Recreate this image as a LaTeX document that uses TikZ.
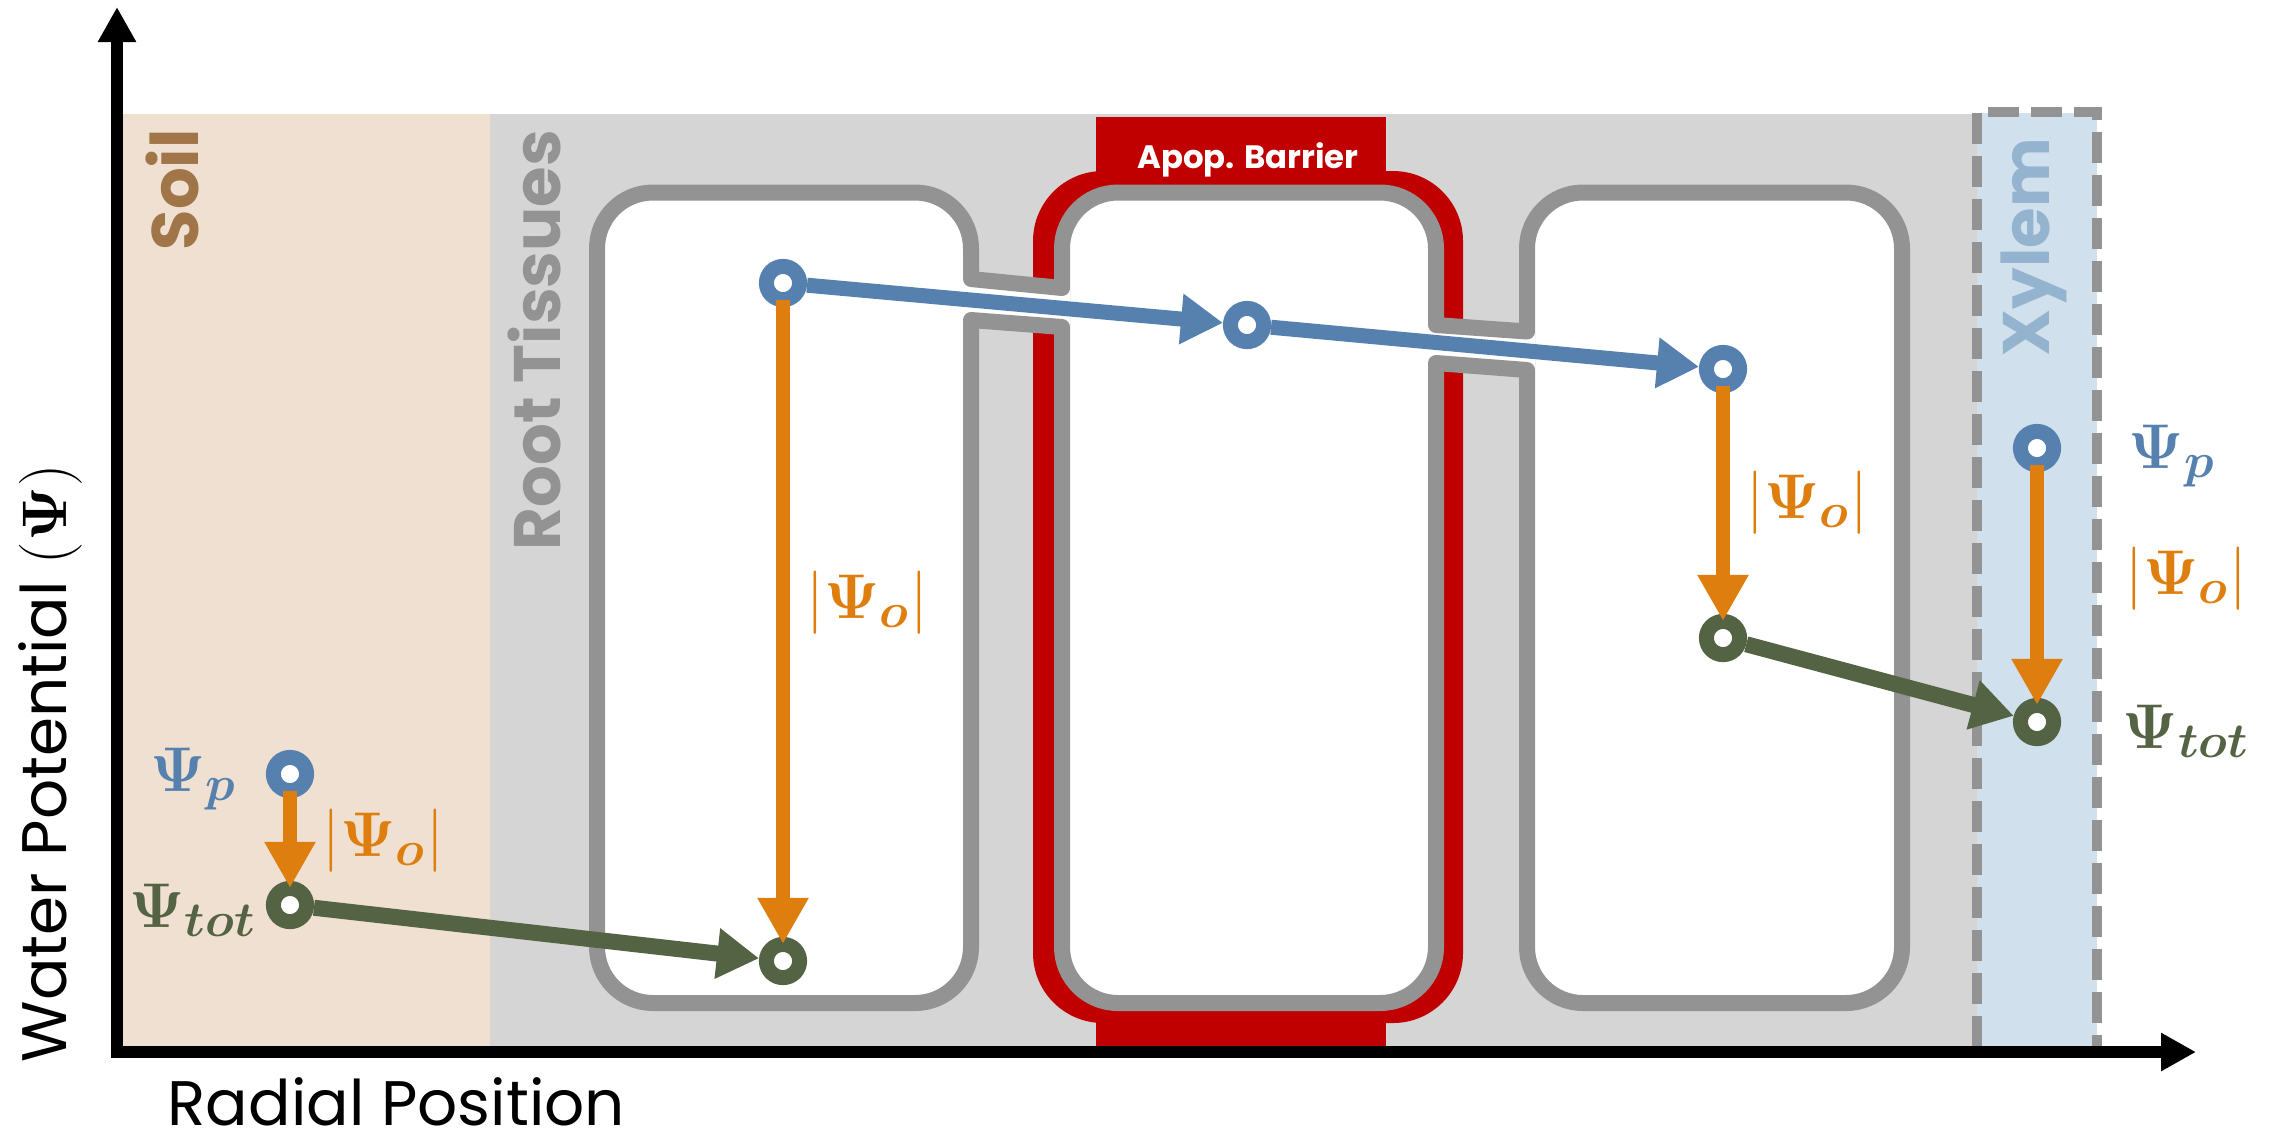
\RequirePackage{fix-cm}
\documentclass[tikz,border=0pt]{standalone}
\usepackage{amsmath}
\usepackage[no-math]{fontspec}
\setmainfont{Poppins}
\usetikzlibrary{arrows.meta}
\DeclareMathSizes{18}{18}{14}{11}

\definecolor{soilbg}{RGB}{239,224,209}
\definecolor{rootbg}{RGB}{213,213,213}
\definecolor{xylembg}{RGB}{208,224,236}
\definecolor{wallgray}{RGB}{147,147,147}
\definecolor{barrier}{RGB}{192,0,0}
\definecolor{psip}{RGB}{86,129,174}
\definecolor{psio}{RGB}{222,126,14}
\definecolor{psitot}{RGB}{84,99,67}
\definecolor{soiltxt}{RGB}{160,117,72}
\definecolor{xylemtxt}{RGB}{148,179,207}

\begin{document}
\begin{tikzpicture}[x=0.1mm,y=-0.1mm,every node/.style={inner sep=0pt},
					region/.style = {rotate=90, anchor=base west, font=\fontsize{18.7}{20}\selectfont\bfseries},
					sym/.style = {anchor=base west, font=\fontsize{18}{20}\selectfont}]

\tikzstyle{ring}=[circle, minimum size=3.32mm, line width=1.5mm, fill=white, outer sep=0.75mm]
\tikzstyle{pring}=[ring, draw=psip]
\tikzstyle{tring}=[ring, draw=psitot]
\tikzstyle{cellwall}=[draw=wallgray, line width=1.6mm, fill=white, rounded corners=5.6mm]
\tikzstyle{channel}=[draw=wallgray, line width=1.6mm, line cap=round]
\tikzstyle{flow}=[line width=1.5mm, -{Triangle[length=4.2mm,width=4.8mm]}]
\tikzstyle{osmo}=[line width=1.45mm, draw=psio, -{Triangle[length=4.6mm,width=4.8mm]}, shorten <=-0.7mm, shorten >=-0.7mm]
\tikzstyle{axis}=[line width=1.2mm, {Triangle[length=3.5mm,width=3.6mm]}-{Triangle[length=3.5mm,width=3.6mm]}]

\useasboundingbox (0,0) rectangle (2270,1135);

\fill[soilbg] (117,114) rectangle (490,1047);
\fill[rootbg] (490,114) rectangle (1977,1047);
\fill[xylembg] (1977,113) rectangle (2097,1047);

\fill[barrier, rounded corners=7mm] (1033,171) rectangle (1463,1023);
\fill[barrier] (1096,117) rectangle (1386,200);
\fill[barrier] (1096,990) rectangle (1386,1047);

\draw[cellwall] (597,192.5) rectangle (971,1003);
\draw[cellwall] (1062,192.5) rectangle (1436,1003);
\draw[cellwall] (1527,192.5) rectangle (1902,1003);

\fill[white] (963,278.2) -- (1070,288.8) -- (1070,327.6) -- (963,319.4) -- cycle;
\draw[channel] (971,279) -- (1062,288);
\draw[channel] (971,320) -- (1062,327);
\fill[white] (1428,324.4) -- (1535,332.1) -- (1535,370.6) -- (1428,362.4) -- cycle;
\draw[channel] (1436,325) -- (1527,331.5);
\draw[channel] (1436,363) -- (1527,370);

\draw[wallgray, line width=1.05mm, dash pattern=on 3.1mm off 1.2mm] (1977,1047) -- (1977,112) -- (2097,112) -- (2097,1047);

\node[region, text=soiltxt] (soil) at (198,251) {Soil};
\node[region, text=wallgray] (root) at (560,551) {Root Tissues};
\node[region, text=xylemtxt] (xylem) at (2049,357) {Xylem};
\node[anchor=base, text=white, font=\fontsize{9.2}{10}\selectfont\bfseries] (apop) at (1248,168) {Apop. Barrier};

\node[pring] (b0) at (290,774) {};
\node[tring] (g0) at (290,905) {};
\node[pring] (b1) at (783,283) {};
\node[tring] (g1) at (783,961) {};
\node[pring] (b2) at (1247,325) {};
\node[pring] (b3) at (1723,369) {};
\node[tring] (g3) at (1723,638) {};
\node[pring] (b4) at (2037,448) {};
\node[tring] (g4) at (2037,722) {};

\draw[flow, psitot, line width=1.6mm] (g0) -- (g1);
\draw[flow, psip] (b1) -- (b2);
\draw[flow, psip] (b2) -- (b3);
\draw[flow, psitot, line width=1.6mm] (g3) -- (g4);
\draw[osmo] (b0) -- (g0);
\draw[osmo] (b1) -- (g1);
\draw[osmo] (b3) -- (g3);
\draw[osmo] (b4) -- (g4);

\node[sym, text=psip, anchor=base east] (soilp) at (238,791) {$\boldsymbol{\Psi}_{\boldsymbol{p}}$};
\node[sym, text=psitot, anchor=base east] (soiltot) at (257,927) {$\boldsymbol{\Psi}_{\boldsymbol{tot}}$};
\node[sym, text=psio] (soilo) at (322,856) {$|\boldsymbol{\Psi}_{\boldsymbol{o}}|$};
\node[sym, text=psio] (cello1) at (806,618) {$|\boldsymbol{\Psi}_{\boldsymbol{o}}|$};
\node[sym, text=psio] (cello3) at (1746,518) {$|\boldsymbol{\Psi}_{\boldsymbol{o}}|$};
\node[sym, text=psip] (xylp) at (2128,468) {$\boldsymbol{\Psi}_{\boldsymbol{p}}$};
\node[sym, text=psio] (xylo) at (2125,594) {$|\boldsymbol{\Psi}_{\boldsymbol{o}}|$};
\node[sym, text=psitot] (xyltot) at (2122,748) {$\boldsymbol{\Psi}_{\boldsymbol{tot}}$};

\coordinate (ytop) at (117,7);
\coordinate (origin) at (117,1052);
\coordinate (xend) at (2196,1052);
\draw[axis] (ytop) -- (origin) -- (xend);

\node[rotate=90, anchor=base west, font=\fontsize{17.9}{20}\selectfont] (ylab) at (66.5,1063) {Water Potential $(\boldsymbol{\Psi})$};
\node[anchor=base west, font=\fontsize{17.9}{20}\selectfont] (xlab) at (167,1125) {Radial Position};
\end{tikzpicture}
\end{document}
